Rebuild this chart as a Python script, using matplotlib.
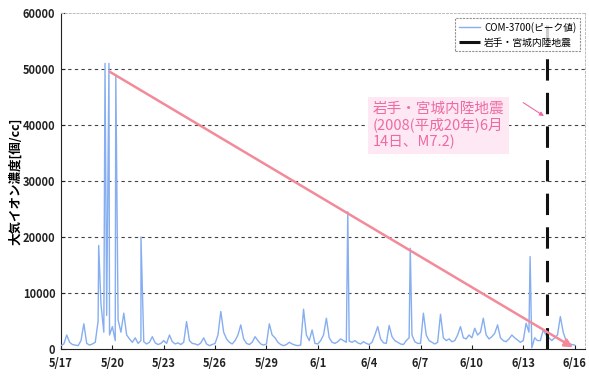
import matplotlib.pyplot as plt
import numpy as np

plt.rcParams['font.family'] = ['Noto Sans CJK JP', 'DejaVu Sans']

# baseline readings, 6 per day (every 4 h) starting 5/17 00:00
base_values = [
    600, 900, 2500, 1200, 800, 700,
    600, 1500, 4500, 1000, 700, 900,
    1200, 5000, 8000, 3000, 6000, 2500,
    4000, 1500, 5200, 3000, 6400, 2500,
    1800, 1200, 2000, 1000, 1500, 1300,
    900, 1200, 2200, 1100, 800, 1000,
    1500, 1000, 2500, 1300, 900, 1100,
    800, 1200, 4900, 1500, 1000, 900,
    700, 1100, 2000, 900, 600, 800,
    1000, 2500, 6700, 3000, 1800, 1200,
    900, 1500, 2500, 4300, 1800, 1000,
    800, 1200, 2200, 1500, 900, 700,
    900, 4500, 2500, 2000, 1200, 800,
    600, 800, 1200, 900, 700, 600,
    700, 7100, 2500, 1500, 3400, 1000,
    900, 1500, 2500, 5500, 2000, 1200,
    1000, 1300, 1800, 1500, 1200, 1400,
    1200, 1500, 1100, 900, 1300, 1000,
    800, 1200, 2500, 4000, 1800, 1100,
    1000, 4200, 2200, 1500, 1200, 900,
    800, 1500, 2000, 2500, 1300, 1000,
    1000, 6400, 2500, 1500, 1200, 900,
    1200, 6200, 2000, 1500, 1800, 1300,
    1500, 2500, 4000, 2000, 1800, 2500,
    2000, 3700, 2500, 3000, 5500, 2500,
    1800, 2200, 2800, 4300, 2000, 1500,
    1300, 1800, 2500, 2000, 1600, 1200,
    1500, 4600, 3000, 200, 2000, 1500,
    1500, 3400, 2500, 2000, 1500, 2000,
    2500, 5800, 3000, 1500, 1000, 800,
    700,
]
base_days = np.arange(len(base_values)) / 6.0

# isolated peaks (day offset from 5/17, ions/cc)
spike_days = [2.2, 2.57, 2.8, 3.2, 4.67, 16.75, 20.4, 27.4]
spike_values = [18500, 51000, 51000, 49000, 20000, 24500, 18000, 16500]

quake_day = 28.36  # 2008/6/14 08:43
tick_days = [0, 3, 6, 9, 12, 15, 18, 21, 24, 27, 30]
tick_labels = ['5/17', '5/20', '5/23', '5/26', '5/29', '6/1', '6/4', '6/7',
               '6/10', '6/13', '6/16']
y_ticks = [0, 10000, 20000, 30000, 40000, 50000, 60000]
trend_start = (2.85, 49500)
trend_end = (29.9, 300)

days = np.concatenate([base_days, spike_days])
values = np.concatenate([base_values, spike_values])
order = np.argsort(days, kind='stable')
days, values = days[order], values[order]

fig = plt.figure(figsize=(5.89, 3.76), dpi=100)
ax = fig.add_axes([0.1036, 0.0718, 0.8894, 0.8936])

ax.plot(days, values, color='#86aef0', lw=1.0, label='COM-3700(ピーク値)', zorder=3)
ax.axvline(quake_day, color='#111111', lw=2.2, dashes=(7, 4),
           label='岩手・宮城内陸地震', zorder=4)

for y in y_ticks[1:-1]:
    ax.axhline(y, color='#444444', lw=0.8, dashes=(3, 3), zorder=1)

ax.annotate('', xy=trend_end, xytext=trend_start,
            arrowprops=dict(arrowstyle='-|>', color='#f38a9a', lw=1.8,
                            mutation_scale=12, shrinkA=0, shrinkB=0),
            zorder=5)

ax.text(18.2, 44200, '岩手・宮城内陸地震\n(2008(平成20年)6月\n14日、M7.2)',
        color='#ee6aa4', fontsize=10.5, va='top', ha='left', linespacing=1.2,
        bbox=dict(boxstyle='square,pad=0.3', fc='#fde8f3', ec='none'), zorder=6)
ax.annotate('', xy=(quake_day - 0.15, 41600), xytext=(27.0, 44000),
            arrowprops=dict(arrowstyle='-|>', color='#ee6aa4', lw=0.8,
                            mutation_scale=6, shrinkA=0, shrinkB=0), zorder=6)

ax.set_xlim(0, 30.6)
ax.set_ylim(0, 60000)
ax.set_xticks(tick_days)
ax.set_xticklabels(tick_labels)
ax.set_yticks(y_ticks)
ax.tick_params(direction='in', length=3, labelsize=8, colors='#222222', pad=6)
ax.tick_params(axis='y', pad=4)
for lab in ax.get_xticklabels() + ax.get_yticklabels():
    lab.set_fontweight('bold')

ax.spines['left'].set_color('#222222')
ax.spines['bottom'].set_color('#222222')
for side in ('top', 'right'):
    ax.spines[side].set_color('#bbbbbb')
    ax.spines[side].set_linestyle((0, (2, 2)))
    ax.spines[side].set_linewidth(0.7)

ax.set_ylabel('大気イオン濃度[個/cc]', fontsize=9, fontweight='bold')
ax.yaxis.set_label_coords(-0.075, 0.5)

leg = ax.legend(loc='upper right', bbox_to_anchor=(1.0, 1.0), fontsize=7,
                frameon=True, fancybox=False, handlelength=2.2, borderpad=0.4,
                labelspacing=0.5, handletextpad=0.4)
leg.get_frame().set_edgecolor('#777777')
leg.get_frame().set_linestyle((0, (2, 1)))
leg.get_frame().set_linewidth(0.8)

fig.savefig('out.png', dpi=100)
